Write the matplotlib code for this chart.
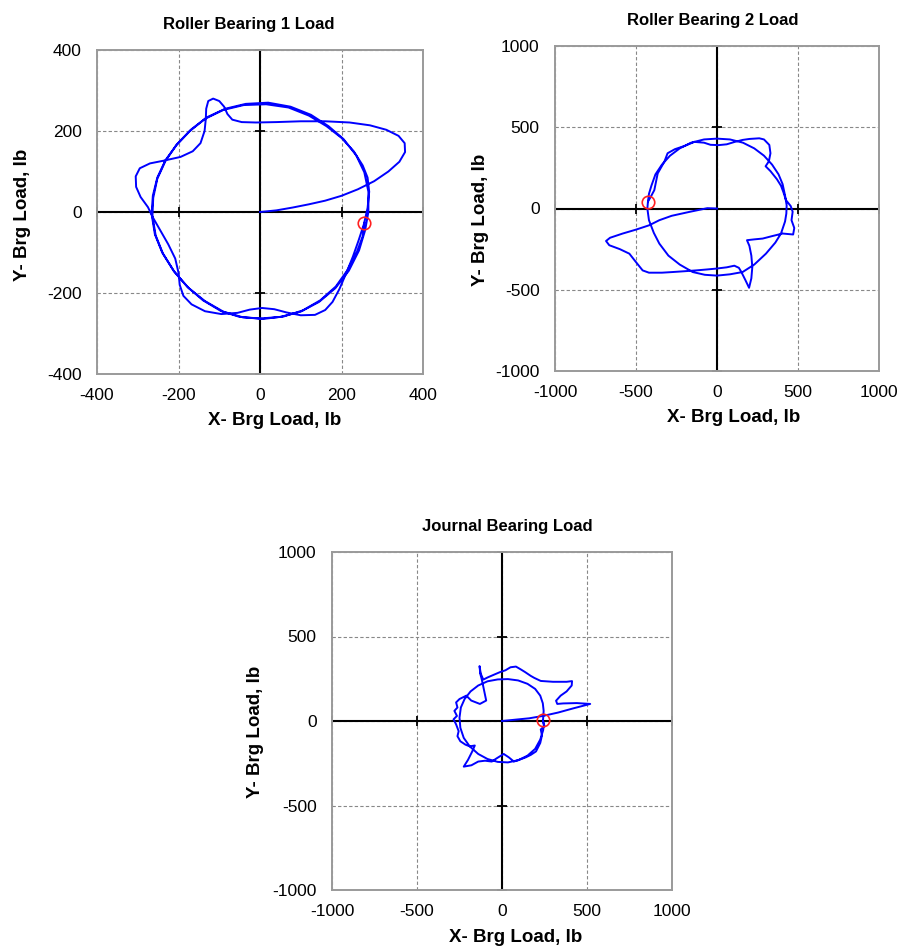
import numpy as np
import matplotlib
matplotlib.use("Agg")
import matplotlib.pyplot as plt

plt.rcParams['font.family'] = ['Liberation Sans', 'DejaVu Sans']
plt.rcParams['axes.unicode_minus'] = False

# ---- data (lb) ----
rb1_x = [0, 40, 80, 120, 160, 200, 240, 280, 315, 342, 356, 355, 340, 310, 270, 220, 160, 100, 40, -10,
         -45, -68, -80, -88, -100, -115, -127, -132, -133, -136, -146, -165, -195, -235, -270, -295, -305,
         -304, -293, -275,
         -262, -245, -225, -208, -200, -197, -188, -168, -135, -95, -55, -25, 5, 35, 65, 100, 135, 160,
         178, 195, 212, 228, 242, 255, 264, 268, 264,
         252, 230, 200, 163, 120, 70, 15, -40, -90, -135, -172, -205, -232, -252, -263, -266, -258, -240,
         -212, -178, -140, -95, -50, 0, 50, 100, 145, 185, 218, 243, 258, 266, 266, 256, 236, 205, 168,
         125, 75, 20, -35, -85,
         -130, -170, -205, -232, -252, -262, -264, -256, -238, -210, -175, -135, -90, -42, 8, 58, 105,
         148, 186, 215, 238, 252, 256]
rb1_y = [0, 4, 11, 19, 28, 40, 56, 76, 100, 124, 148, 170, 188, 203, 214, 221, 224, 224, 222, 221,
         222, 228, 242, 260, 274, 280, 274, 255, 230, 200, 170, 150, 136, 127, 120, 108, 88,
         62, 37, 12,
         -15, -45, -80, -115, -150, -180, -207, -228, -245, -252, -249, -241, -237, -240, -248, -255, -254,
         -242, -222, -190, -150, -110, -70, -30, 10, 50, 85,
         115, 150, 183, 212, 238, 258, 266, 264, 252, 230, 200, 165, 128, 85, 40, -5, -55, -100,
         -145, -185, -218, -245, -259, -263, -259, -246, -222, -188, -145, -95, -45, 0, 50, 98, 140, 180,
         212, 240, 260, 270, 267, 255,
         234, 203, 166, 126, 82, 35, -10, -58, -103, -148, -188, -220, -246, -260, -264, -258, -243,
         -218, -184, -143, -98, -60, -27]

rb2_x = [0, -60, -171, -280, -356, -418, -500, -582, -660, -685, -665, -600, -541, -500, -459, -420,
         -340, -274, -200, -130, -60, -6, 60, 107, 135, 150, 175, 198, 212, 218, 212, 200, 185, 230,
         282, 340, 405, 470, 477, 460, 467, 455, 426, 410, 395, 370, 330, 300, 320, 330, 323, 290, 261,
         200, 158, 110, 60, 10, -40, -80, -140, -200, -260, -305, -325, -366, -387, -410, -426,
         -430, -420, -390, -356, -300, -230, -150, -75, 0, 80, 158, 230, 302, 360, 395, 420, 428, 430,
         420, 405, 380, 340, 290, 230, 160, 80, 0, -80, -160, -230, -290, -340, -380, -405, -420, -426]
rb2_y = [0, 2, -21, -45, -72, -103, -130, -154, -180, -200, -226, -250, -278, -330, -381, -395,
         -395, -391, -386, -381, -375, -370, -362, -352, -365, -390, -440, -488, -430, -360, -290, -230,
         -195, -190, -185, -170, -154, -160, -120, -72, -20, 15, 51, 100, 140, 180, 230, 260, 290, 340,
         391, 425, 432, 428, 422, 410, 395, 390, 392, 405, 410, 385, 365, 340, 288, 216, 113, 70, 43,
         0, -72, -150, -216, -290, -345, -391, -408, -413, -405, -391, -345, -278, -210, -154, -80, -31,
         20, 80, 150, 210, 270, 325, 370, 405, 425, 430, 425, 405, 370, 325, 270, 210, 140, 90, 43]

jb_x = [0, 80, 160, 241, 330, 420, 519, 440, 360, 325, 318, 345, 380, 410, 412, 380, 300, 228, 190,
        169, 135, 111, 82, 50, 20, -10, -45, -84, -110, -125, -132, -128, -120, -113, -93, -130, -181,
        -210, -250, -270, -262, -280, -265, -285, -270, -255, -262, -245, -215, -190, -160, -175, -200,
        -225, -180, -140, -100, -60, -30, 10, 40, 70, 100, 140, 170, 200, 225, 235, 228, 250, 241,
        245, 240, 225, 195, 150, 95, 35, -25, -85, -140, -185, -220, -242, -250, -245, -225, -190,
        -140, -85, -25, 35, 95, 150, 195, 225, 242, 246, 241]
jb_y = [0, 8, 16, 30, 50, 75, 101, 106, 104, 101, 120, 150, 175, 210, 236, 232, 232, 237, 255,
        267, 290, 305, 322, 318, 300, 290, 275, 258, 245, 280, 325, 280, 250, 218, 121, 101, 121,
        150, 130, 110, 80, 60, 30, 10, -20, -60, -90, -120, -140, -150, -145, -180, -230,
        -270, -262, -240, -235, -240, -220, -195, -215, -240, -230, -215, -200, -180, -130, -85, -50, -30, 0,
        60, 105, 150, 190, 220, 240, 248, 246, 235, 210, 175, 130, 80, 20, -40, -100, -150,
        -195, -225, -242, -245, -232, -205, -165, -110, -55, -25, 4]

rb1_ticks = [-400, -200, 0, 200, 400]
big_ticks = [-1000, -500, 0, 500, 1000]

# title, x, y, ticks, axes box (px), title x, xlabel (x, y), ylabel (x, y)
panels = [
    ("Roller Bearing 1 Load", rb1_x, rb1_y, rb1_ticks, [97, 50, 423, 374], 0.466,
     (0.545, -0.145), (-0.23, 0.49)),
    ("Roller Bearing 2 Load", rb2_x, rb2_y, big_ticks, [555, 46, 879, 371], 0.488,
     (0.55, -0.142), (-0.231, 0.465)),
    ("Journal Bearing Load", jb_x, jb_y, big_ticks, [332, 552, 672, 890], 0.515,
     (0.54, -0.142), (-0.226, 0.467)),
]

W, H = 906, 951
fig = plt.figure(figsize=(W / 100, H / 100), dpi=100)

for title, xs, ys, ticks, box, tx, xl, yl in panels:
    x0, y0, x1, y1 = box
    ax = fig.add_axes([x0 / W, (H - y1) / H, (x1 - x0) / W, (y1 - y0) / H])
    lim = (ticks[0], ticks[-1])
    ax.set_xlim(lim)
    ax.set_ylim(lim)
    ax.set_xticks(ticks)
    ax.set_yticks(ticks)
    ax.grid(True, ls=(0, (3, 2)), color='#888888', lw=0.8)
    ax.set_axisbelow(True)
    for s in ax.spines.values():
        s.set_color('#9a9a9a')
        s.set_linewidth(1.4)
    ax.tick_params(length=0, labelsize=12.5)
    ax.tick_params(axis='x', pad=10)
    ax.tick_params(axis='y', pad=11)

    # zero axes with cross tick marks
    ax.axhline(0, color='black', lw=1.5, zorder=2)
    ax.axvline(0, color='black', lw=1.5, zorder=2)
    ax.plot(ticks, [0] * len(ticks), ls='none', marker='|', ms=7, mew=1.3, color='black',
            clip_on=False, zorder=2)
    ax.plot([0] * len(ticks), ticks, ls='none', marker='_', ms=7, mew=1.3, color='black',
            clip_on=False, zorder=2)

    ax.plot(xs, ys, color='#0000ff', lw=1.4, zorder=3)
    ax.plot(xs[-1], ys[-1], marker='o', ms=9, mfc='none', mec='#ff2020', mew=1.2, zorder=4)

    ax.set_title(title, fontsize=12, fontweight='bold', pad=15, x=tx)
    ax.set_xlabel("X- Brg Load, lb", fontsize=13.5, fontweight='bold', va='center')
    ax.set_ylabel("Y- Brg Load, lb", fontsize=13.5, fontweight='bold', va='center')
    ax.xaxis.set_label_coords(*xl)
    ax.yaxis.set_label_coords(*yl)

fig.savefig("out.png", dpi=100)
